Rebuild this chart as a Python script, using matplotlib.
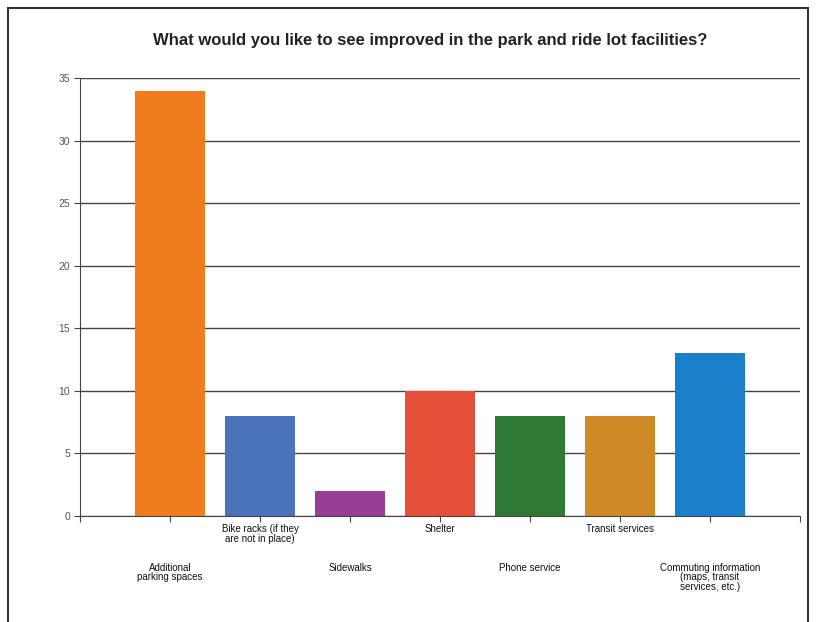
import matplotlib
matplotlib.use("Agg")
import matplotlib.pyplot as plt
from matplotlib.patches import Rectangle

plt.rcParams["font.family"] = ["Liberation Sans", "DejaVu Sans"]

categories = [
    "Additional\nparking spaces",
    "Bike racks (if they\nare not in place)",
    "Sidewalks",
    "Shelter",
    "Phone service",
    "Transit services",
    "Commuting information\n(maps, transit\nservices, etc.)",
]
counts = [34, 8, 2, 10, 8, 8, 13]
colors = ["#F07C1E", "#4A73BA", "#9A3D96", "#E44F38", "#2F7A33", "#CF8A27", "#1A7FCB"]

fig = plt.figure(figsize=(8.16, 6.22), dpi=100)
ax = fig.add_axes([80 / 816, 1 - 516 / 622, 720 / 816, 438 / 622])

x = list(range(1, len(categories) + 1))
ax.bar(x, counts, width=0.78, color=colors, zorder=2)

ax.set_xlim(0, len(categories) + 1)
ax.set_ylim(0, 35)
ax.set_yticks(range(0, 36, 5))
ax.yaxis.grid(True, color="#444444", linewidth=1.0, zorder=0)
ax.set_axisbelow(True)

for s in ("top", "right"):
    ax.spines[s].set_visible(False)
ax.spines["left"].set_color("#444444")
ax.spines["bottom"].set_color("#444444")

ax.set_xticks(range(0, len(categories) + 2))
ax.set_xticklabels([])
ax.tick_params(axis="x", length=4, color="#444444")
ax.tick_params(axis="y", length=4, color="#444444", labelsize=7.5, labelcolor="#555555", pad=3)

# staggered category labels
for i, (xi, lab) in enumerate(zip(x, categories)):
    offset = -34 if i % 2 == 0 else -6
    ax.annotate(lab, xy=(xi, 0), xycoords="data", xytext=(0, offset),
                textcoords="offset points", ha="center", va="top",
                fontsize=7, linespacing=0.9, color="#111111")

fig.text(430 / 816, 1 - 41 / 622,
         "What would you like to see improved in the park and ride lot facilities?",
         ha="center", va="center", fontsize=12, fontweight="bold", color="#222222")

fig.patches.append(Rectangle((8 / 816, -0.01), 800 / 816, 1 - 8 / 622 + 0.01,
                             transform=fig.transFigure, fill=False,
                             edgecolor="#333333", linewidth=1.5))

fig.savefig("out.png", dpi=100)
